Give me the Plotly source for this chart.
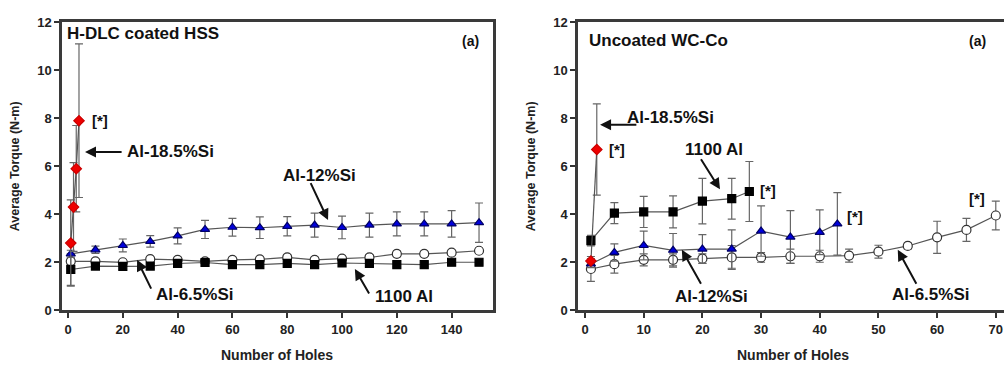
import plotly.graph_objects as go

# ---------------- data: left panel (H-DLC coated HSS) ----------------
L_holes = [1, 10, 20, 30, 40, 50, 60, 70, 80, 90, 100, 110, 120, 130, 140, 150]
L_si12 = [2.35, 2.52, 2.7, 2.87, 3.1, 3.37, 3.46, 3.44, 3.5, 3.55, 3.45, 3.55, 3.6, 3.6, 3.6, 3.65]
L_si12_err = [0.15, 0.15, 0.27, 0.24, 0.33, 0.38, 0.37, 0.45, 0.4, 0.5, 0.47, 0.5, 0.5, 0.5, 0.55, 0.82]
L_si65 = [2.04, 2.04, 2.0, 2.13, 2.1, 2.04, 2.1, 2.12, 2.2, 2.1, 2.15, 2.2, 2.35, 2.35, 2.4, 2.48]
L_si65_err = [0.1, 0.1, 0.1, 0.1, 0.1, 0.1, 0.1, 0.1, 0.1, 0.1, 0.1, 0.1, 0.12, 0.1, 0.1, 0.1]
L_al1100 = [1.7, 1.84, 1.83, 1.84, 1.95, 1.99, 1.9, 1.9, 1.95, 1.9, 1.97, 1.95, 1.9, 1.9, 2.0, 2.0]
L_al1100_err = [0.66, 0.1, 0.12, 0.1, 0.08, 0.1, 0.08, 0.08, 0.08, 0.08, 0.08, 0.08, 0.08, 0.08, 0.08, 0.08]
L_si185_holes = [1, 2, 3, 4]
L_si185 = [2.8, 4.3, 5.9, 7.9]
L_si185_err = [1.8, 1.85, 1.8, 3.2]

# ---------------- data: right panel (Uncoated WC-Co) ----------------
R_al1100_holes = [1, 5, 10, 15, 20, 25, 28]
R_al1100 = [2.9, 4.05, 4.1, 4.1, 4.55, 4.65, 4.95]
R_al1100_err = [0.22, 0.44, 0.65, 0.67, 0.95, 0.85, 1.25]
R_si12_holes = [1, 5, 10, 15, 20, 25, 30, 35, 40, 43]
R_si12 = [1.93, 2.41, 2.7, 2.5, 2.55, 2.55, 3.3, 3.05, 3.25, 3.6]
R_si12_err = [0.15, 0.36, 0.6, 0.7, 0.6, 0.8, 1.05, 1.1, 0.93, 1.3]
R_si65_holes = [1, 5, 10, 15, 20, 25, 30, 35, 40, 45, 50, 55, 60, 65, 70]
R_si65 = [1.72, 1.92, 2.1, 2.1, 2.15, 2.2, 2.2, 2.25, 2.25, 2.28, 2.44, 2.68, 3.04, 3.35, 3.95]
R_si65_err = [0.52, 0.37, 0.25, 0.25, 0.2, 0.5, 0.2, 0.3, 0.25, 0.27, 0.27, 0.12, 0.67, 0.48, 0.6]
R_si185_holes = [1, 2]
R_si185 = [2.05, 6.7]
R_si185_err = [0.1, 1.9]

L_xticks = [0, 20, 40, 60, 80, 100, 120, 140]
R_xticks = [0, 10, 20, 30, 40, 50, 60, 70]
yticks = [0, 2, 4, 6, 8, 10, 12]

W, H = 1004, 372
FONT = "Liberation Sans, Arial, sans-serif"
LINE_C = "#555555"
ERR_C = "#666666"

def series(x, y, err, xa, ya, symbol, fill, outline, size):
    return go.Scatter(
        x=x, y=y, xaxis=xa, yaxis=ya, mode="lines+markers",
        line=dict(color=LINE_C, width=1.2),
        marker=dict(symbol=symbol, color=fill, size=size,
                    line=dict(color=outline, width=1.2)),
        error_y=dict(type="data", array=err, visible=True, color=ERR_C,
                     thickness=1.2, width=4),
        showlegend=False, hoverinfo="skip")

fig = go.Figure()
# left panel
fig.add_trace(series(L_holes, L_si65, L_si65_err, "x", "y", "circle", "white", "#333333", 9))
fig.add_trace(series(L_holes, L_al1100, L_al1100_err, "x", "y", "square", "black", "black", 8))
fig.add_trace(series(L_holes, L_si12, L_si12_err, "x", "y", "triangle-up", "#0000dd", "#000066", 8))
fig.add_trace(series(L_si185_holes, L_si185, L_si185_err, "x", "y", "diamond", "#ee0000", "#cc0000", 8))
# right panel
fig.add_trace(series(R_si65_holes, R_si65, R_si65_err, "x2", "y2", "circle", "white", "#333333", 9))
fig.add_trace(series(R_al1100_holes, R_al1100, R_al1100_err, "x2", "y2", "square", "black", "black", 8))
fig.add_trace(series(R_si12_holes, R_si12, R_si12_err, "x2", "y2", "triangle-up", "#0000dd", "#000066", 8))
fig.add_trace(series(R_si185_holes, R_si185, R_si185_err, "x2", "y2", "diamond", "#ee0000", "#cc0000", 8))

ydom = [(H - 316) / H, (H - 16) / H]
axis_common = dict(showgrid=False, zeroline=False, ticks="outside", ticklen=5,
                   tickwidth=2, tickcolor="#333333", linecolor="#3a3a3a",
                   linewidth=2.5, showline=True,
                   tickfont=dict(family=FONT, size=13, color="#222222", weight="bold"))

fig.update_layout(
    width=W, height=H, margin=dict(l=0, r=0, t=0, b=0),
    plot_bgcolor="white", paper_bgcolor="white",
    xaxis=dict(domain=[62 / W, 493 / W], range=[-2.2, 155.1], tickvals=L_xticks,
               mirror=True, anchor="y", **axis_common),
    yaxis=dict(domain=ydom, range=[0, 12], tickvals=yticks, mirror=True,
               anchor="x", **axis_common),
    xaxis2=dict(domain=[578 / W, 1.0], range=[-1.2, 71.4], tickvals=R_xticks,
                mirror=True, anchor="y2", **axis_common),
    yaxis2=dict(domain=ydom, range=[0, 12], tickvals=yticks, mirror=False,
                anchor="x2", **axis_common),
)

def txt(text, x, y, xref, yref, size=17, xanchor="left"):
    fig.add_annotation(text=text, x=x, y=y, xref=xref, yref=yref, showarrow=False,
                       xanchor=xanchor, yanchor="middle",
                       font=dict(family=FONT, size=size, color="#111111", weight="bold"))

def arrow(x0, y0, x1, y1, xr, yr):
    fig.add_annotation(text="", x=x1, y=y1, ax=x0, ay=y0, xref=xr, yref=yr,
                       axref=xr, ayref=yr, showarrow=True, arrowhead=2,
                       arrowsize=1.1, arrowwidth=2, arrowcolor="#111111", standoff=0)

# left panel texts
txt("H-DLC coated HSS", 65 / W, 1 - 28 / H, "paper", "paper", 17)
txt("(a)", 470 / W, 1 - 35 / H, "paper", "paper", 14, "center")
txt("[*]", 8.0, 7.92, "x", "y", 15)
txt("Al-18.5%Si", 20.8, 6.6, "x", "y", 17)
arrow(20.1, 6.6, 6.2, 6.6, "x", "y")
txt("Al-12%Si", 91.9, 5.6, "x", "y", 17, "center")
arrow(88.3, 5.36, 94.9, 3.76, "x", "y")
txt("Al-6.5%Si", 46.0, 0.64, "x", "y", 17, "center")
arrow(30.6, 0.84, 25.2, 2.1, "x", "y")
txt("1100 Al", 122.6, 0.56, "x", "y", 17, "center")
arrow(110.2, 0.64, 104.7, 1.72, "x", "y")

# right panel texts
txt("Uncoated WC-Co", 587 / W, 1 - 35 / H, "paper", "paper", 17)
txt("(a)", 977 / W, 1 - 35 / H, "paper", "paper", 14, "center")
txt("Al-18.5%Si", 6.8, 8.04, "x2", "y2", 17)
arrow(9.0, 7.73, 2.56, 7.73, "x2", "y2")
txt("[*]", 3.75, 6.68, "x2", "y2", 15)
txt("1100 Al", 16.7, 6.72, "x2", "y2", 17)
arrow(19.6, 6.36, 23.0, 5.04, "x2", "y2")
txt("[*]", 29.5, 5.0, "x2", "y2", 15)
txt("[*]", 44.3, 3.92, "x2", "y2", 15)
txt("[*]", 65.1, 4.64, "x2", "y2", 15)
txt("Al-12%Si", 15.0, 0.56, "x2", "y2", 17)
arrow(19.9, 1.04, 16.5, 2.52, "x2", "y2")
txt("Al-6.5%Si", 52.0, 0.64, "x2", "y2", 17)
arrow(56.6, 1.04, 53.3, 2.52, "x2", "y2")

# axis titles
for xc in (15, 531):
    fig.add_annotation(text="Average Torque (N-m)", x=xc / W, y=1 - 166 / H,
                       xref="paper", yref="paper", showarrow=False, textangle=-90,
                       xanchor="center", yanchor="middle",
                       font=dict(family=FONT, size=12.5, color="#222222", weight="bold"))
for xc in (277, 793):
    fig.add_annotation(text="Number of Holes", x=xc / W, y=1 - 363 / H,
                       xref="paper", yref="paper", showarrow=False,
                       xanchor="center", yanchor="middle",
                       font=dict(family=FONT, size=14, color="#222222", weight="bold"))

fig.write_html("out.html", config={"displayModeBar": False},
               post_script="document.body.style.margin='0px';document.body.style.overflow='hidden';")
